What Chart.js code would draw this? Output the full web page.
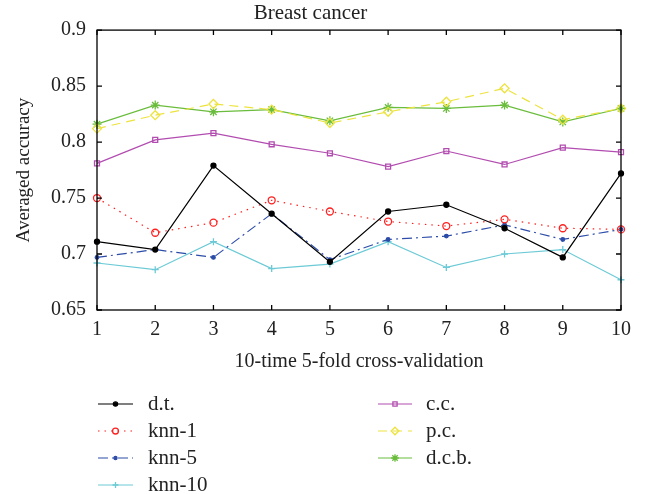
<!DOCTYPE html>
<html lang="en">
<head>
<meta charset="UTF-8">
<title>Breast cancer</title>
<script src="https://cdn.jsdelivr.net/npm/chart.js"></script>
<style>
    html, body { margin: 0; padding: 0; background: #fff; }
</style>
</head>
<body>
<canvas id="chart" width="646" height="494"></canvas>
<script>
    // data
    const runs = ['1', '2', '3', '4', '5', '6', '7', '8', '9', '10'];
    const yTicks = [0.65, 0.7, 0.75, 0.8, 0.85, 0.9];

    const dt     = [0.711, 0.704, 0.779, 0.736, 0.693, 0.738, 0.744, 0.723, 0.697, 0.772];
    const knn1   = [0.750, 0.719, 0.728, 0.748, 0.738, 0.729, 0.725, 0.731, 0.723, 0.722];
    const knn5   = [0.697, 0.704, 0.697, 0.736, 0.695, 0.713, 0.716, 0.726, 0.713, 0.722];
    const knn10  = [0.692, 0.686, 0.711, 0.687, 0.691, 0.711, 0.688, 0.700, 0.704, 0.677];
    const cc     = [0.781, 0.802, 0.808, 0.798, 0.790, 0.778, 0.792, 0.780, 0.795, 0.791];
    const pc     = [0.812, 0.824, 0.834, 0.829, 0.817, 0.827, 0.836, 0.848, 0.820, 0.830];
    const dcb    = [0.816, 0.833, 0.827, 0.829, 0.819, 0.831, 0.830, 0.833, 0.818, 0.830];

    const serif = "'Liberation Serif', 'Times New Roman', serif";
    Chart.defaults.font.family = serif;
    Chart.defaults.color = '#222';

    function series(label, data, color, dash, style, radius, filled) {
        return {
            label: label,
            data: data,
            borderColor: color,
            backgroundColor: filled ? color : 'rgba(0,0,0,0)',
            borderWidth: 1.2,
            borderDash: dash,
            pointStyle: style,
            pointRadius: radius,
            pointBorderWidth: 1.3,
            pointBorderColor: color,
            pointBackgroundColor: filled ? color : 'rgba(0,0,0,0)',
            tension: 0,
            fill: false
        };
    }

    const datasets = [
        series('d.t.',   dt,    '#000000', [],            'circle',  2.5, true),
        series('knn-1',  knn1,  '#ff2020', [1.5, 5],      'circle',  3.5, false),
        series('knn-5',  knn5,  '#2c4ca8', [10, 4, 2, 4], 'circle',  1.8, true),
        series('knn-10', knn10, '#6ccad6', [],            'cross',   3.5, false),
        series('c.c.',   cc,    '#b24cb0', [],            'rect',    3.5, false),
        series('p.c.',   pc,    '#ece33e', [9, 6],        'rectRot', 4.5, false),
        series('d.c.b.', dcb,   '#6abd3c', [],            'star',    4.5, true)
    ];

    // box frame with inward tick marks on all four sides
    const framePlugin = {
        id: 'frame',
        afterDraw(chart) {
            const ctx = chart.ctx;
            const a = chart.chartArea;
            const xs = chart.scales.x, ys = chart.scales.y;
            const len = 5;
            ctx.save();
            ctx.strokeStyle = '#000';
            ctx.lineWidth = 1.3;
            ctx.setLineDash([]);
            ctx.strokeRect(a.left, a.top, a.right - a.left, a.bottom - a.top);
            ctx.beginPath();
            xs.ticks.forEach((t, i) => {
                const px = xs.getPixelForTick(i);
                ctx.moveTo(px, a.bottom); ctx.lineTo(px, a.bottom - len);
                ctx.moveTo(px, a.top); ctx.lineTo(px, a.top + len);
            });
            ys.ticks.forEach((t, i) => {
                const py = ys.getPixelForTick(i);
                ctx.moveTo(a.left, py); ctx.lineTo(a.left + len, py);
                ctx.moveTo(a.right, py); ctx.lineTo(a.right - len, py);
            });
            ctx.stroke();
            ctx.restore();
        }
    };

    // two-column legend under the x axis title
    const legendPlugin = {
        id: 'sideLegend',
        afterDraw(chart) {
            const ctx = chart.ctx;
            const cols = [{ x0: 98, x1: 133, tx: 148 }, { x0: 378, x1: 412, tx: 426 }];
            const rowY = [404, 431, 458, 485];
            ctx.save();
            chart.data.datasets.forEach((ds, i) => {
                const col = cols[i < 4 ? 0 : 1];
                const y = rowY[i < 4 ? i : i - 4];
                ctx.strokeStyle = ds.borderColor;
                ctx.lineWidth = ds.borderWidth;
                ctx.setLineDash(ds.borderDash);
                ctx.beginPath();
                ctx.moveTo(col.x0, y);
                ctx.lineTo(col.x1, y);
                ctx.stroke();
                ctx.setLineDash([]);
                ctx.fillStyle = ds.pointBackgroundColor;
                ctx.strokeStyle = ds.pointBorderColor;
                ctx.lineWidth = ds.pointBorderWidth;
                Chart.helpers.drawPoint(ctx, {
                    pointStyle: ds.pointStyle,
                    radius: ds.pointRadius * 0.85,
                    rotation: 0,
                    borderWidth: ds.pointBorderWidth
                }, (col.x0 + col.x1) / 2, y);
                ctx.fillStyle = '#222';
                ctx.font = '21px ' + serif;
                ctx.textAlign = 'left';
                ctx.textBaseline = 'middle';
                ctx.fillText(ds.label, col.tx, y);
            });
            ctx.restore();
        }
    };

    new Chart(document.getElementById('chart'), {
        type: 'line',
        data: { labels: runs, datasets: datasets },
        options: {
            responsive: false,
            animation: false,
            layout: { padding: { left: 0, right: 25, top: 0, bottom: 114 } },
            plugins: {
                legend: { display: false },
                tooltip: { enabled: false },
                title: {
                    display: true,
                    text: 'Breast cancer',
                    color: '#222',
                    font: { size: 21, weight: 'normal', lineHeight: 1.1 },
                    padding: { top: 2, bottom: 5 }
                }
            },
            scales: {
                x: {
                    offset: false,
                    grid: { display: false, drawTicks: false },
                    border: { display: false },
                    ticks: { font: { size: 20 }, padding: 8, maxRotation: 0, autoSkip: false },
                    title: {
                        display: true,
                        text: '10-time 5-fold cross-validation',
                        font: { size: 20 },
                        padding: { top: 0, bottom: 6 }
                    },
                    afterFit(scale) { scale.height = 70; }
                },
                y: {
                    min: 0.65,
                    max: 0.9,
                    afterBuildTicks(scale) { scale.ticks = yTicks.map(v => ({ value: v })); },
                    grid: { display: false, drawTicks: false },
                    border: { display: false },
                    ticks: {
                        font: { size: 20 },
                        padding: 11,
                        callback: v => parseFloat(Number(v).toFixed(2)).toString()
                    },
                    title: {
                        display: true,
                        text: 'Averaged accuracy',
                        font: { size: 19 },
                        padding: { top: 13, bottom: 0 }
                    },
                    afterFit(scale) { scale.width = 97; }
                }
            }
        },
        plugins: [framePlugin, legendPlugin]
    });
</script>
</body>
</html>
